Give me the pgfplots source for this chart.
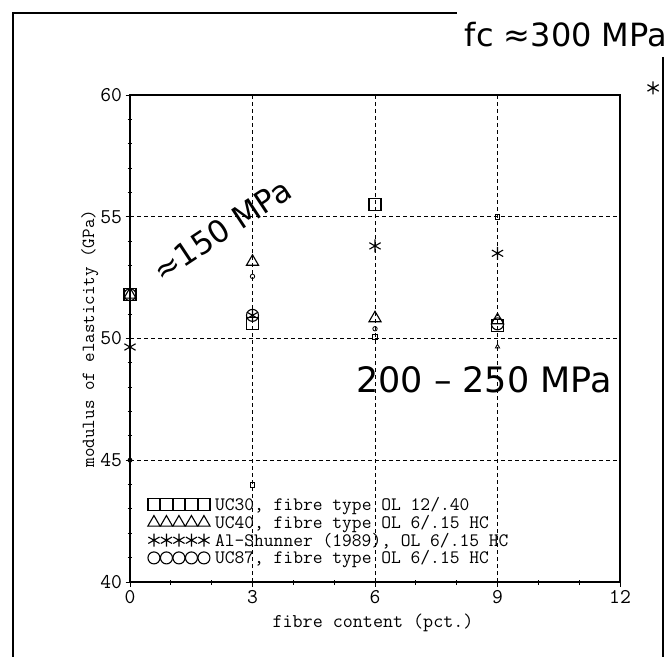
\documentclass[border=0pt]{standalone}
\usepackage{pgfplots}
\pgfplotsset{compat=1.18}
\usepackage{fontspec}
\newfontfamily\dejavu{DejaVu Sans}

\begin{document}
\begin{tikzpicture}[x=1bp,y=1bp]
\useasboundingbox (-130,-75) rectangle (540,582);
% scanned page frame
\draw[line width=1.6bp] (-117,-75) -- (-117,569) -- (327,569);
\draw[line width=1.6bp] (533,525) -- (533,-75);
\begin{axis}[
  at={(0,0)}, anchor=south west,
  scale only axis, width=490bp, height=487bp,
  xmin=0, xmax=12, ymin=40, ymax=60,
  clip=false,
  axis line style={line width=1.4bp},
  xtick={0,3,6,9,12}, ytick={40,45,50,55,60},
  minor x tick num=2, minor y tick num=4,
  xtick pos=bottom, ytick pos=left,
  tick align=center, major tick length=9bp, minor tick length=5bp,
  tick style={line width=0.9bp, black},
  grid=major,
  grid style={line width=0.8bp, black, dash pattern=on 4bp off 3bp},
  ticklabel style={font=\fontsize{21bp}{24bp}\selectfont\ttfamily},
  /pgf/number format/assume math mode=true,
  xlabel={fibre content (pct.)},
  ylabel={modulus of elasticity (GPa)},
  xlabel style={font=\fontsize{19.5bp}{22bp}\selectfont\ttfamily, at={(axis description cs:0.496,-0.084)}, anchor=center},
  ylabel style={font=\fontsize{18.5bp}{22bp}\selectfont\ttfamily, at={(axis description cs:-0.082,0.5)}, anchor=center},
  legend style={at={(axis description cs:0.03,0.18)}, anchor=north west, draw=none, fill=none,
    font=\fontsize{19bp}{18bp}\selectfont\ttfamily, row sep=1bp, column sep=3bp,
    nodes={inner ysep=1bp}},
  legend cell align=left,
  legend image code/.code={\draw[#1] plot[only marks] coordinates {(0bp,0bp) (12.5bp,0bp) (25bp,0bp) (37.5bp,0bp) (50bp,0bp)};},
]
\addplot[only marks, black, mark=square, mark size=6bp, mark options={line width=1.1bp}]
  coordinates {(0,51.8) (3,50.6) (6,55.5) (9,50.55)};
\addlegendentry{UC30, fibre type OL 12/.40}
\addplot[only marks, black, mark=triangle, mark size=7bp, mark options={line width=1.1bp}]
  coordinates {(0,51.8) (3,53.15) (6,50.83) (9,50.75)};
\addlegendentry{UC40, fibre type OL 6/.15 HC}
\addplot[only marks, black, mark=asterisk, mark size=6.5bp, mark options={line width=1.1bp}]
  coordinates {(0,49.65) (3,50.95) (6,53.8) (9,53.5)};
\addlegendentry{Al-Shunner (1989), OL 6/.15 HC}
\addplot[only marks, black, mark=o, mark size=6bp, mark options={line width=1.1bp}]
  coordinates {(0,51.8) (3,50.95) (9,50.6)};
\addlegendentry{UC87, fibre type OL 6/.15 HC}
% small markers (single results)
\addplot[forget plot, only marks, black, mark=square, mark size=2.2bp, mark options={line width=0.8bp}]
  coordinates {(3,43.98) (9,55.0) (6,50.07)};
\addplot[forget plot, only marks, black, mark=o, mark size=2.2bp, mark options={line width=0.8bp}]
  coordinates {(3,52.55) (6,50.4)};
\addplot[forget plot, only marks, black, mark=triangle, mark size=2.5bp, mark options={line width=0.8bp}]
  coordinates {(9,49.66)};
\addplot[forget plot, only marks, black, mark=*, mark size=2.2bp]
  coordinates {(0,45.0)};
% off-scale point, fc about 300 MPa
\addplot[forget plot, only marks, black, mark=asterisk, mark size=6.5bp, mark options={line width=1.2bp}]
  coordinates {(12.81,60.29)};
\end{axis}
\node[font=\fontsize{32bp}{38bp}\selectfont\dejavu, inner sep=0pt] at (436,547) {fc ≈300 MPa};
\node[font=\fontsize{35bp}{40bp}\selectfont\dejavu, inner sep=0pt] at (354,202) {200 – 250 MPa};
\node[font=\fontsize{31bp}{36bp}\selectfont\dejavu, inner sep=0pt, rotate=33.5] at (92,352) {≈150 MPa};
\end{tikzpicture}
\end{document}
